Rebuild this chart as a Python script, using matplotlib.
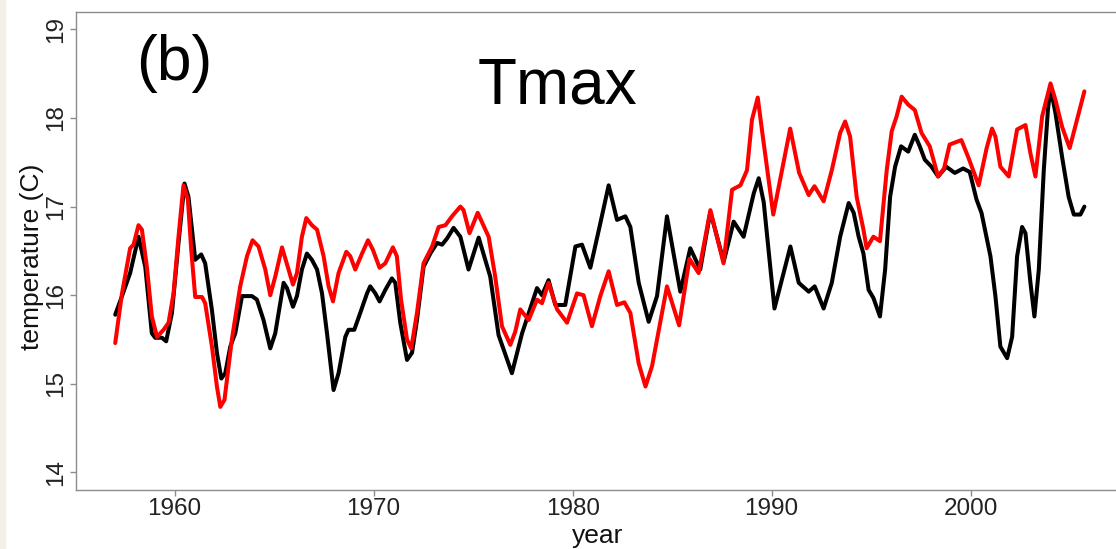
import matplotlib
matplotlib.use("Agg")
import matplotlib.pyplot as plt
from matplotlib.patches import Rectangle

plt.rcParams['font.family'] = ['Liberation Sans', 'DejaVu Sans']

# black series (year, temperature)
black_year = [1957.02, 1957.36, 1957.77, 1958.19, 1958.53, 1958.86, 1959.03, 1959.37, 1959.58, 1959.87,
              1960.20, 1960.50, 1960.70, 1961.04, 1961.34, 1961.54, 1961.88, 1962.13, 1962.35, 1962.55,
              1962.80, 1963.05, 1963.39, 1963.89, 1964.14, 1964.47, 1964.81, 1965.06, 1965.48, 1965.65,
              1965.95, 1966.15, 1966.40, 1966.65, 1966.90, 1967.16, 1967.41, 1967.66, 1967.99, 1968.24,
              1968.58, 1968.74, 1969.03, 1969.33, 1969.67, 1969.83, 1970.09, 1970.30, 1970.59, 1970.92,
              1971.09, 1971.34, 1971.68, 1971.93, 1972.18, 1972.51, 1972.85, 1973.19, 1973.44, 1973.69,
              1974.02, 1974.36, 1974.77, 1975.28, 1975.86, 1976.28, 1976.95, 1977.46, 1978.21, 1978.46,
              1978.79, 1979.13, 1979.63, 1980.14, 1980.47, 1980.89, 1981.39, 1981.81, 1982.23, 1982.65,
              1982.90, 1983.32, 1983.82, 1984.24, 1984.74, 1985.41, 1985.91, 1986.41, 1986.92, 1987.59,
              1988.09, 1988.59, 1989.10, 1989.35, 1989.60, 1990.14, 1990.94, 1991.36, 1991.86, 1992.16,
              1992.61, 1993.02, 1993.44, 1993.87, 1994.12, 1994.37, 1994.61, 1994.87, 1995.11, 1995.44,
              1995.70, 1995.95, 1996.20, 1996.50, 1996.86, 1997.19, 1997.44, 1997.69, 1998.03, 1998.36,
              1998.77, 1999.20, 1999.62, 1999.95, 2000.29, 2000.54, 2000.99, 2001.24, 2001.49, 2001.83,
              2002.08, 2002.33, 2002.58, 2002.75, 2003.00, 2003.20, 2003.42, 2003.67, 2003.88, 2004.01,
              2004.26, 2004.59, 2004.92, 2005.18, 2005.51, 2005.71]
black_temp = [15.78, 15.99, 16.25, 16.66, 16.32, 15.57, 15.52, 15.52, 15.48, 15.80,
              16.59, 17.26, 17.11, 16.40, 16.46, 16.36, 15.83, 15.35, 15.06, 15.12,
              15.42, 15.57, 15.99, 15.99, 15.95, 15.72, 15.40, 15.57, 16.14, 16.08,
              15.87, 15.99, 16.29, 16.47, 16.40, 16.29, 16.02, 15.57, 14.93, 15.12,
              15.53, 15.61, 15.61, 15.80, 16.02, 16.10, 16.02, 15.93, 16.06, 16.19,
              16.14, 15.69, 15.27, 15.35, 15.72, 16.32, 16.47, 16.59, 16.57, 16.64,
              16.76, 16.66, 16.29, 16.65, 16.21, 15.55, 15.12, 15.57, 16.08, 16.00,
              16.17, 15.89, 15.89, 16.55, 16.57, 16.31, 16.81, 17.24, 16.85, 16.89,
              16.77, 16.14, 15.70, 15.99, 16.89, 16.04, 16.53, 16.29, 16.94, 16.38,
              16.83, 16.66, 17.15, 17.32, 17.05, 15.85, 16.55, 16.14, 16.04, 16.10,
              15.85, 16.14, 16.66, 17.04, 16.93, 16.66, 16.47, 16.06, 15.97, 15.76,
              16.29, 17.11, 17.45, 17.68, 17.62, 17.81, 17.68, 17.53, 17.45, 17.34,
              17.45, 17.38, 17.43, 17.39, 17.08, 16.93, 16.44, 15.99, 15.42, 15.29,
              15.53, 16.44, 16.77, 16.70, 16.14, 15.76, 16.29, 17.41, 18.10, 18.34,
              18.05, 17.56, 17.11, 16.91, 16.91, 17.00]

# red series (year, temperature)
red_year = [1957.02, 1957.36, 1957.77, 1957.94, 1958.19, 1958.36, 1958.61, 1958.86, 1959.12, 1959.45,
            1959.70, 1959.95, 1960.20, 1960.45, 1960.67, 1960.84, 1961.04, 1961.38, 1961.54, 1961.88,
            1962.13, 1962.30, 1962.51, 1962.88, 1963.30, 1963.64, 1963.92, 1964.22, 1964.56, 1964.81,
            1965.06, 1965.40, 1965.73, 1965.95, 1966.15, 1966.40, 1966.62, 1966.90, 1967.16, 1967.49,
            1967.74, 1967.96, 1968.24, 1968.63, 1968.83, 1969.08, 1969.42, 1969.72, 1969.97, 1970.30,
            1970.59, 1970.97, 1971.17, 1971.38, 1971.68, 1971.89, 1972.18, 1972.51, 1972.94, 1973.27,
            1973.61, 1973.94, 1974.36, 1974.52, 1974.82, 1975.23, 1975.78, 1976.11, 1976.45, 1976.87,
            1977.12, 1977.37, 1977.79, 1978.21, 1978.46, 1978.79, 1979.22, 1979.72, 1980.22, 1980.55,
            1980.97, 1981.39, 1981.81, 1982.23, 1982.60, 1982.90, 1983.32, 1983.66, 1983.99, 1984.74,
            1985.35, 1985.87, 1986.33, 1986.92, 1987.58, 1988.01, 1988.43, 1988.76, 1989.01, 1989.30,
            1989.52, 1990.08, 1990.93, 1991.38, 1991.86, 1992.15, 1992.61, 1993.02, 1993.44, 1993.69,
            1993.94, 1994.27, 1994.61, 1994.77, 1995.11, 1995.44, 1995.78, 1996.03, 1996.28, 1996.53,
            1996.86, 1997.19, 1997.53, 1997.94, 1998.36, 1998.66, 1998.94, 1999.53, 1999.87, 2000.40,
            2000.80, 2001.07, 2001.24, 2001.49, 2001.91, 2002.33, 2002.75, 2003.00, 2003.25, 2003.59,
            2004.01, 2004.26, 2004.59, 2004.97, 2005.34, 2005.71]
red_temp = [15.46, 16.02, 16.53, 16.57, 16.79, 16.74, 16.32, 15.76, 15.53, 15.61,
            15.69, 16.02, 16.66, 17.24, 17.08, 16.51, 15.98, 15.98, 15.91, 15.42,
            14.97, 14.74, 14.82, 15.50, 16.10, 16.44, 16.62, 16.55, 16.29, 16.00,
            16.21, 16.54, 16.29, 16.12, 16.25, 16.66, 16.87, 16.79, 16.74, 16.44,
            16.10, 15.93, 16.25, 16.49, 16.44, 16.29, 16.47, 16.62, 16.51, 16.31,
            16.36, 16.54, 16.44, 15.95, 15.50, 15.40, 15.80, 16.36, 16.55, 16.77,
            16.79, 16.89, 17.00, 16.96, 16.70, 16.93, 16.66, 16.21, 15.65, 15.44,
            15.59, 15.84, 15.72, 15.95, 15.91, 16.14, 15.84, 15.69, 16.02, 16.00,
            15.65, 15.99, 16.27, 15.89, 15.92, 15.80, 15.23, 14.97, 15.20, 16.10,
            15.66, 16.41, 16.25, 16.96, 16.36, 17.19, 17.24, 17.41, 17.98, 18.23,
            17.85, 16.91, 17.88, 17.38, 17.13, 17.23, 17.06, 17.41, 17.83, 17.96,
            17.79, 17.11, 16.74, 16.53, 16.66, 16.61, 17.41, 17.85, 18.02, 18.24,
            18.15, 18.09, 17.83, 17.68, 17.34, 17.43, 17.70, 17.75, 17.56, 17.24,
            17.66, 17.88, 17.79, 17.45, 17.34, 17.87, 17.92, 17.60, 17.34, 18.02,
            18.39, 18.20, 17.90, 17.66, 17.98, 18.30]

xticks = [1960, 1970, 1980, 1990, 2000]
yticks = [14, 15, 16, 17, 18, 19]

W, H = 1116, 549
fig = plt.figure(figsize=(W / 100, H / 100), dpi=100)
fig.patches.append(Rectangle((0, 0), 5 / W, 1, transform=fig.transFigure,
                             color='#f3f0ea', zorder=0))

# axes box runs past the right edge (cropped like the original)
ax = fig.add_axes([76 / W, (H - 490.2) / H, 1047 / W, 478.6 / H])
ax.plot(black_year, black_temp, color='black', lw=2.9,
        solid_joinstyle='round', solid_capstyle='round')
ax.plot(red_year, red_temp, color='#ff0000', lw=2.9,
        solid_joinstyle='round', solid_capstyle='round')

ax.set_xlim(1955.05, 2007.65)
ax.set_ylim(13.8, 19.2)
ax.set_xticks(xticks)
ax.set_yticks(yticks)
ax.set_xticklabels([str(v) for v in xticks])
ax.set_yticklabels([str(v) for v in yticks], rotation=90, va='center')

grey = '#8c8c8c'
for s in ax.spines.values():
    s.set_color(grey)
    s.set_linewidth(1.0)
ax.tick_params(axis='both', colors=grey, length=4.5, width=1.0, labelsize=17.5,
               labelcolor='#222222')
ax.tick_params(axis='x', pad=1)
ax.tick_params(axis='y', pad=2)

fig.text(31.7 / W, (H - 256.5) / H, 'temperature (C)', rotation=90, ha='center',
         va='center', fontsize=19, color='#111111')
fig.text(598 / W, (H - 543) / H, 'year', ha='center', va='baseline',
         fontsize=19, color='#111111')

ax.text(0.094, 0.857, '(b)', transform=ax.transAxes, ha='center', va='baseline',
        fontsize=45, color='black')
ax.text(0.46, 0.809, 'Tmax', transform=ax.transAxes, ha='center', va='baseline',
        fontsize=46, color='black')

fig.savefig('out.png', dpi=100)
